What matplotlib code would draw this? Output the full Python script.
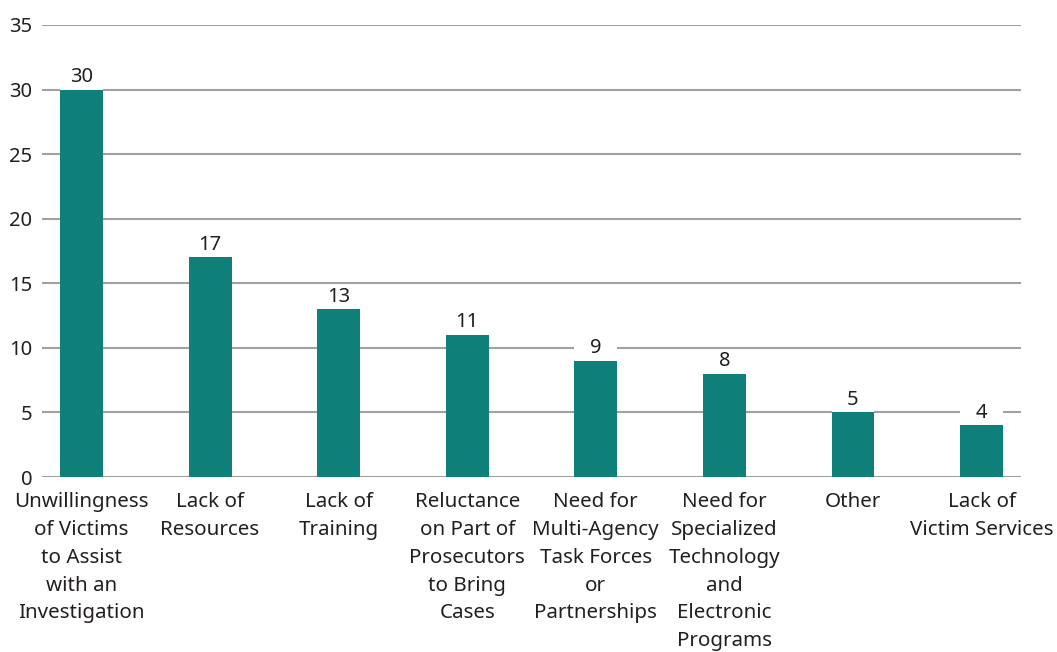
import matplotlib.pyplot as plt
from matplotlib.patches import Rectangle
import numpy as np

# categories and counts
categories = [
    "Unwillingness\nof Victims\nto Assist\nwith an\nInvestigation",
    "Lack of\nResources",
    "Lack of\nTraining",
    "Reluctance\non Part of\nProsecutors\nto Bring\nCases",
    "Need for\nMulti-Agency\nTask Forces\nor\nPartnerships",
    "Need for\nSpecialized\nTechnology\nand\nElectronic\nPrograms",
    "Other",
    "Lack of\nVictim Services",
]
counts = [30, 17, 13, 11, 9, 8, 5, 4]
yticks = [0, 5, 10, 15, 20, 25, 30, 35]

teal = '#0e8079'
grid_gray = '#a0a0a0'
text_col = '#231f20'

plt.rcParams['font.family'] = ['Noto Sans', 'DejaVu Sans']

fig = plt.figure(figsize=(10.57, 6.52), dpi=100)
ax = fig.add_axes([0.0397, 0.2684, 0.9263, 0.6933])

x = np.arange(len(counts))
bw = 0.334
for yv in yticks:
    ax.axhline(yv, color=grid_gray, lw=1.5, zorder=0)
ax.bar(x, counts, width=bw, color=teal, zorder=2)

# value labels sit on a white strip as wide as the bar, which hides the gridline
for xi, v in zip(x, counts):
    ax.add_patch(Rectangle((xi - bw / 2, v), bw, 1.6, facecolor='white',
                           edgecolor='none', zorder=1))
    ax.text(xi, v + 0.2, str(v), ha='center', va='bottom', fontsize=14.5,
            color=text_col, zorder=3)

ax.set_xlim(-0.307, 7.307)
ax.set_ylim(0, 35)
ax.set_yticks(yticks)
ax.set_yticklabels([str(t) for t in yticks], fontsize=14.5, color=text_col)
ax.set_xticks(x)
ax.set_xticklabels(categories, fontsize=14.8, color=text_col, linespacing=1.52)
ax.tick_params(axis='both', length=0)
ax.tick_params(axis='y', pad=7)
ax.tick_params(axis='x', pad=11)
for s in ax.spines.values():
    s.set_visible(False)

fig.savefig('out.png', dpi=100)
